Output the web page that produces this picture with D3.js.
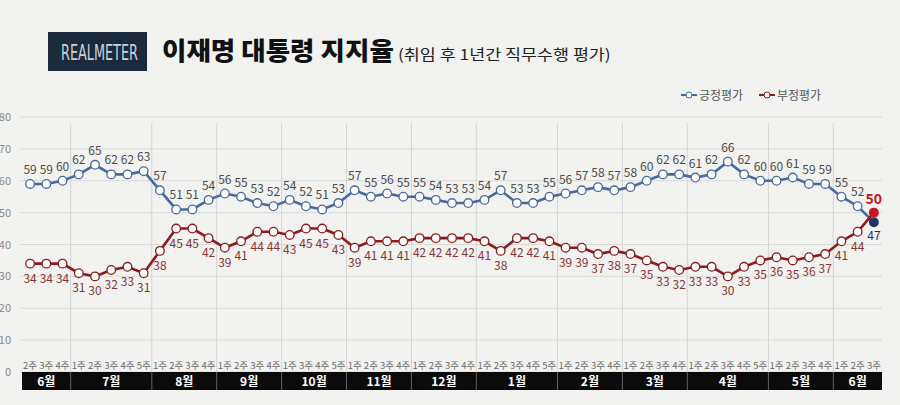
<!DOCTYPE html>
<html>
<head>
<meta charset="utf-8">
<script src="https://cdn.jsdelivr.net/npm/d3@7"></script>
<style>
  body { margin: 0; background: #f2f2f0; }
  svg { display: block; }
</style>
</head>
<body>
<div id="chart"></div>
<script>
// months and the weeks surveyed in each
const months = ["6월", "7월", "8월", "9월", "10월", "11월", "12월", "1월", "2월", "3월", "4월", "5월", "6월"];
const monthWeeks = [
    ["2주", "3주", "4주"],
    ["1주", "2주", "3주", "4주", "5주"],
    ["1주", "2주", "3주", "4주"],
    ["1주", "2주", "3주", "4주"],
    ["1주", "3주", "4주", "5주"],
    ["1주", "2주", "3주", "4주"],
    ["1주", "2주", "3주", "4주"],
    ["1주", "2주", "3주", "4주", "5주"],
    ["1주", "2주", "3주", "4주"],
    ["1주", "2주", "3주", "4주"],
    ["1주", "2주", "3주", "4주", "5주"],
    ["1주", "2주", "3주", "4주"],
    ["1주", "2주", "3주"]
];

// 긍정평가 (positive)
const positive = [
    59, 59, 60,
    62, 65, 62, 62, 63,
    57, 51, 51, 54,
    56, 55, 53, 52,
    54, 52, 51, 53,
    57, 55, 56, 55,
    55, 54, 53, 53,
    54, 57, 53, 53, 55,
    56, 57, 58, 57,
    58, 60, 62, 62,
    61, 62, 66, 62, 60,
    60, 61, 59, 59,
    55, 52, 47
];

// 부정평가 (negative)
const negative = [
    34, 34, 34,
    31, 30, 32, 33, 31,
    38, 45, 45, 42,
    39, 41, 44, 44,
    43, 45, 45, 43,
    39, 41, 41, 41,
    42, 42, 42, 42,
    41, 38, 42, 42, 41,
    39, 39, 37, 38,
    37, 35, 33, 32,
    33, 33, 30, 33, 35,
    36, 35, 36, 37,
    41, 44, 50
];

const yTicks = [0, 10, 20, 30, 40, 50, 60, 70, 80];

const width = 900, height = 405;
const posColor = "#4769a1", negColor = "#8c1c1c";

const svg = d3.select("#chart").append("svg")
    .attr("width", width)
    .attr("height", height)
    .style("font-family", "'Noto Sans CJK KR', 'Noto Sans', sans-serif");

svg.append("rect").attr("width", width).attr("height", height).attr("fill", "#f2f2f0");

// flatten weeks into slots
const slots = [];
monthWeeks.forEach((wks, mi) => wks.forEach(w => slots.push({ month: mi, week: w })));

const x = d3.scaleBand().domain(d3.range(slots.length)).range([22, 882]).padding(0);
const cx = i => x(i) + x.bandwidth() / 2;
const y = d3.scaleLinear().domain([0, 80]).range([372, 117]);

// horizontal gridlines
svg.append("g").selectAll("line").data(yTicks).join("line")
    .attr("x1", 20).attr("x2", 882)
    .attr("y1", d => y(d)).attr("y2", d => y(d))
    .attr("stroke", "#d9d9d7").attr("stroke-width", 1);

svg.append("g").selectAll("text").data(yTicks).join("text")
    .attr("x", 11).attr("y", d => y(d) + 4)
    .attr("text-anchor", "end")
    .attr("font-size", 11).attr("fill", "#8a8a8a")
    .text(d => d);

// month boundaries
let acc = 0;
const bounds = [];
monthWeeks.forEach(wks => { bounds.push(acc); acc += wks.length; });
bounds.push(acc);

svg.append("g").selectAll("line").data(bounds.slice(1, -1)).join("line")
    .attr("x1", d => x(d)).attr("x2", d => x(d))
    .attr("y1", 123).attr("y2", 372)
    .attr("stroke", "#d5d5d3").attr("stroke-width", 1);

// week labels
svg.append("g").selectAll("text").data(slots).join("text")
    .attr("x", (d, i) => cx(i)).attr("y", 369)
    .attr("text-anchor", "middle")
    .attr("font-size", 9.5).attr("fill", "#6a6a6a")
    .text(d => d.week);

// month bar
svg.append("rect").attr("x", 22).attr("y", 372).attr("width", 860).attr("height", 18).attr("fill", "#0b0b0b");
svg.append("g").selectAll("line").data(bounds.slice(1, -1)).join("line")
    .attr("x1", d => x(d)).attr("x2", d => x(d))
    .attr("y1", 372).attr("y2", 390)
    .attr("stroke", "#777").attr("stroke-width", 0.8);
svg.append("g").selectAll("text").data(months).join("text")
    .attr("x", (d, i) => (x(bounds[i]) + x(bounds[i + 1] - 1) + x.bandwidth()) / 2)
    .attr("y", 386)
    .attr("text-anchor", "middle")
    .attr("font-size", 12).attr("font-weight", 700).attr("fill", "#fff")
    .text(d => d);

// series
const line = d3.line().x((d, i) => cx(i)).y(d => y(d));

function drawSeries(values, color, labelColor, above, lastFill) {
    svg.append("path").datum(values)
        .attr("fill", "none").attr("stroke", color).attr("stroke-width", 2.6)
        .attr("d", line);
    const last = values.length - 1;
    svg.append("g").selectAll("circle").data(values).join("circle")
        .attr("cx", (d, i) => cx(i)).attr("cy", d => y(d))
        .attr("r", 4.3)
        .attr("fill", (d, i) => i === last ? lastFill : "#fff")
        .attr("stroke", (d, i) => i === last ? lastFill : color)
        .attr("stroke-width", 1.3);
    svg.append("g").selectAll("text").data(values.slice(0, last)).join("text")
        .attr("x", (d, i) => cx(i))
        .attr("y", d => above ? y(d) - 10 : y(d) + 19)
        .attr("text-anchor", "middle")
        .attr("font-size", 12).attr("fill", labelColor)
        .text(d => d);
}

drawSeries(positive, posColor, "#4c4c4c", true, "#1d3660");
drawSeries(negative, negColor, "#8a3434", false, "#c4161c");

// final values
const li = slots.length - 1;
svg.append("text")
    .attr("x", cx(li)).attr("y", y(negative[li]) - 9)
    .attr("text-anchor", "middle")
    .attr("font-size", 14).attr("font-weight", 700).attr("fill", "#c4161c")
    .text(negative[li]);
svg.append("text")
    .attr("x", cx(li)).attr("y", y(positive[li]) + 18)
    .attr("text-anchor", "middle")
    .attr("font-size", 12).attr("fill", "#1d3660")
    .text(positive[li]);

// legend
const legend = [
    { name: "긍정평가", color: posColor, x: 681 },
    { name: "부정평가", color: negColor, x: 759 }
];
const lg = svg.append("g").selectAll("g").data(legend).join("g")
    .attr("transform", d => `translate(${d.x},95)`);
lg.append("line").attr("x1", 0).attr("x2", 16).attr("stroke", d => d.color).attr("stroke-width", 2);
lg.append("circle").attr("cx", 8).attr("r", 3).attr("fill", "#fff").attr("stroke", d => d.color).attr("stroke-width", 1);
lg.append("text").attr("x", 18).attr("y", 4.5)
    .attr("font-size", 12).attr("fill", "#555")
    .text(d => d.name);

// title block
svg.append("rect").attr("x", 48).attr("y", 32).attr("width", 99).attr("height", 39).attr("fill", "#1c2b3b");

// squeeze a text horizontally so it fills a given width
function fitText(sel, tx, ty, w) {
    const natural = sel.node().getComputedTextLength();
    sel.attr("transform", `translate(${tx},${ty}) scale(${w / natural},1)`);
}

const logo = svg.append("text")
    .attr("font-family", "'Liberation Sans Narrow', 'DejaVu Sans Condensed', sans-serif")
    .attr("font-size", 21).attr("fill", "#c9d2dc")
    .text("REALMETER");
fitText(logo, 61, 60, 77);

const title = svg.append("text")
    .attr("font-size", 25).attr("font-weight", 900).attr("fill", "#111")
    .text("이재명 대통령 지지율");
fitText(title, 162, 60, 232);

const sub = svg.append("text")
    .attr("font-size", 15).attr("fill", "#222")
    .text("(취임 후 1년간 직무수행 평가)");
fitText(sub, 398, 60, 213);
</script>
</body>
</html>
